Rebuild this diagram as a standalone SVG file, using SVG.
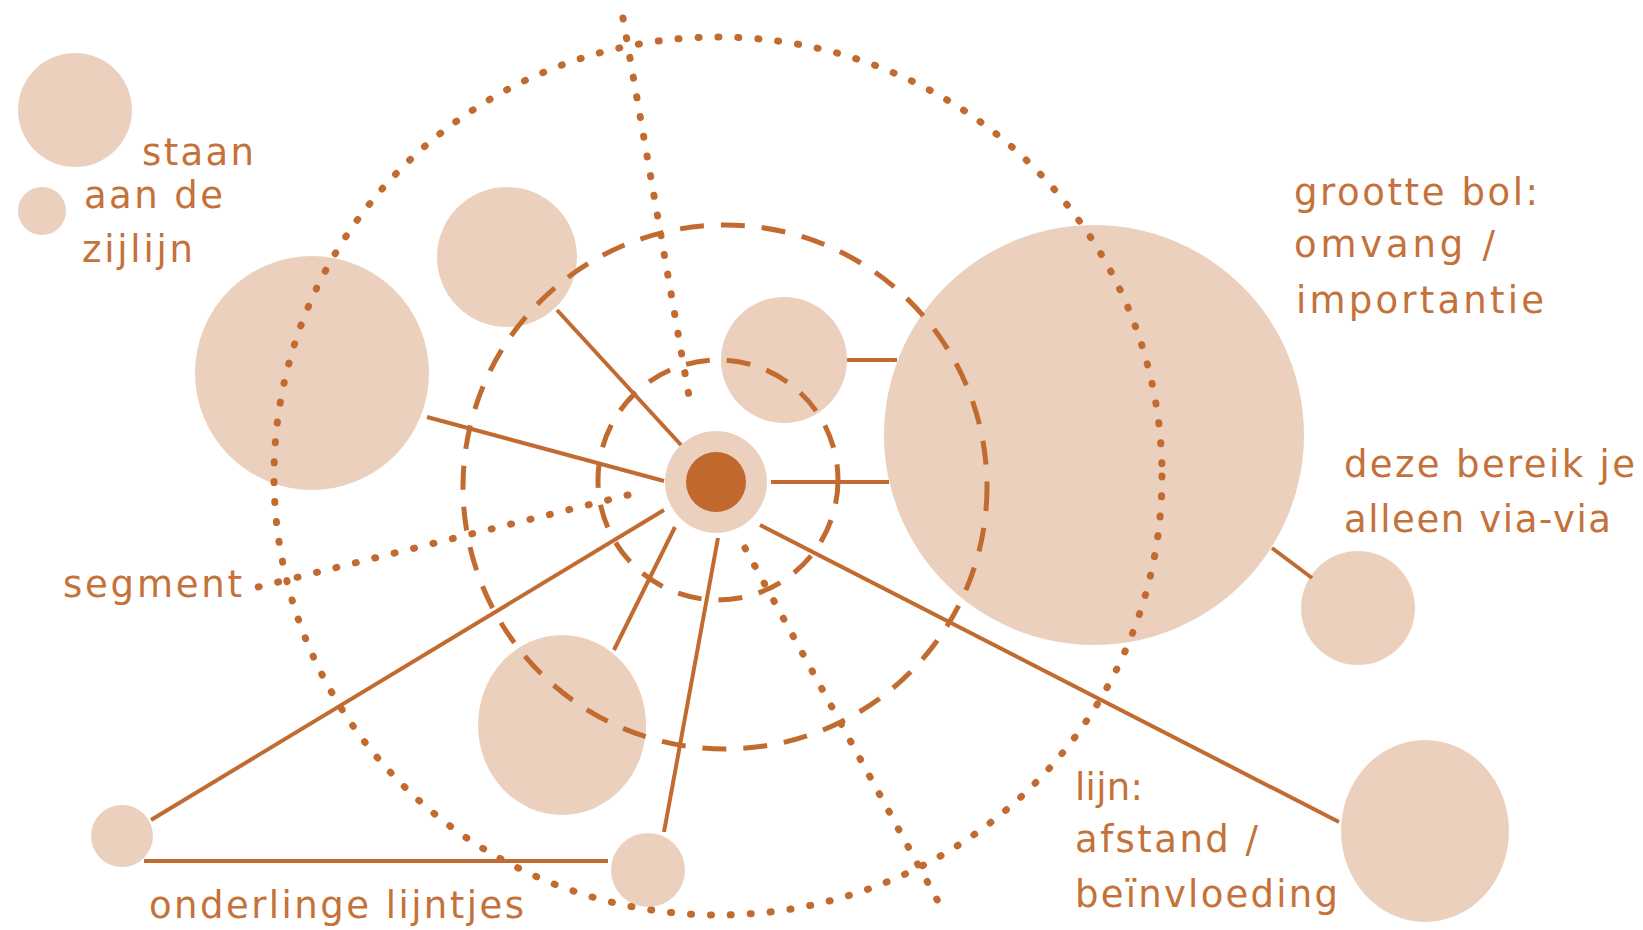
<svg xmlns="http://www.w3.org/2000/svg" width="1643" height="930" viewBox="0 0 1643 930">
<style>
.bol{fill:#ebd1bd}
.core{fill:#c0682e}
.lijn{stroke:#c26b31;stroke-width:4;fill:none}
.dot{stroke:#c26b31;stroke-width:7;fill:none;stroke-linecap:round;stroke-dasharray:1 19}
.dash{stroke:#c26b31;stroke-width:5;fill:none;stroke-dasharray:24 17}
text{font-family:"DejaVu Sans","Liberation Sans",sans-serif;font-size:37px;fill:#c4713a}
</style>
<rect width="1643" height="930" fill="#ffffff"/>
<g id="legend-groot"><circle class="bol" cx="75" cy="110" r="57"/></g>
<g id="legend-klein"><circle class="bol" cx="42" cy="211" r="24"/></g>
<g id="bol-links"><circle class="bol" cx="312" cy="373" r="117"/></g>
<g id="bol-linksboven"><circle class="bol" cx="507" cy="257" r="70"/></g>
<g id="bol-boven"><circle class="bol" cx="784" cy="360" r="63"/></g>
<g id="bol-groot"><circle class="bol" cx="1094" cy="435" r="210"/></g>
<g id="bol-viavia"><circle class="bol" cx="1358" cy="608" r="57"/></g>
<g id="bol-rechtsonder"><ellipse class="bol" cx="1425" cy="831" rx="84" ry="91"/></g>
<g id="bol-onder"><ellipse class="bol" cx="562" cy="725" rx="84" ry="90"/></g>
<g id="bol-onderklein"><circle class="bol" cx="648" cy="870" r="37"/></g>
<g id="bol-linksonder"><circle class="bol" cx="122" cy="836" r="31"/></g>
<g id="ik"><circle class="bol" cx="716" cy="482" r="51"/><circle class="core" cx="716" cy="482" r="30"/></g>
<g id="connectors">
<ellipse class="dot" cx="718" cy="476" rx="444" ry="439"/>
<circle class="dash" cx="725" cy="487" r="262"/>
<circle class="dash" cx="718" cy="480" r="120"/>
<path class="dot" d="M623,18 L690,402"/>
<path class="dot" d="M628,495 L258,587"/>
<path class="dot" d="M745,548 L940,905"/>
<path class="lijn" d="M557,310 L681,445"/>
<path class="lijn" d="M427,417 L664,481"/>
<path class="lijn" d="M151,820 L664,510"/>
<path class="lijn" d="M614,650 L675,527"/>
<path class="lijn" d="M664,832 L718,538"/>
<path class="lijn" d="M771,482 L889,482"/>
<path class="lijn" d="M847,360 L897,360"/>
<path class="lijn" d="M760,525 L1339,822"/>
<path class="lijn" d="M1272,548 L1312,578"/>
<path class="lijn" d="M144,861 L608,861"/>
</g>
<g id="labels">
<text x="142" y="165" textLength="112" lengthAdjust="spacing">staan</text>
<text x="84" y="208" textLength="139" lengthAdjust="spacing">aan de</text>
<text x="82" y="262" textLength="111" lengthAdjust="spacing">zijlijn</text>
<text x="1294" y="205" textLength="244" lengthAdjust="spacing">grootte bol:</text>
<text x="1294" y="257" textLength="201" lengthAdjust="spacing">omvang /</text>
<text x="1296" y="313" textLength="248" lengthAdjust="spacing">importantie</text>
<text x="1344" y="477" textLength="291" lengthAdjust="spacing">deze bereik je</text>
<text x="1344" y="532" textLength="267" lengthAdjust="spacing">alleen via-via</text>
<text x="63" y="597" textLength="179" lengthAdjust="spacing">segment</text>
<text x="149" y="918" textLength="375" lengthAdjust="spacing">onderlinge lijntjes</text>
<text x="1075" y="800" textLength="68" lengthAdjust="spacing">lijn:</text>
<text x="1075" y="852" textLength="183" lengthAdjust="spacing">afstand /</text>
<text x="1075" y="907" textLength="263" lengthAdjust="spacing">beïnvloeding</text>
</g>
</svg>
